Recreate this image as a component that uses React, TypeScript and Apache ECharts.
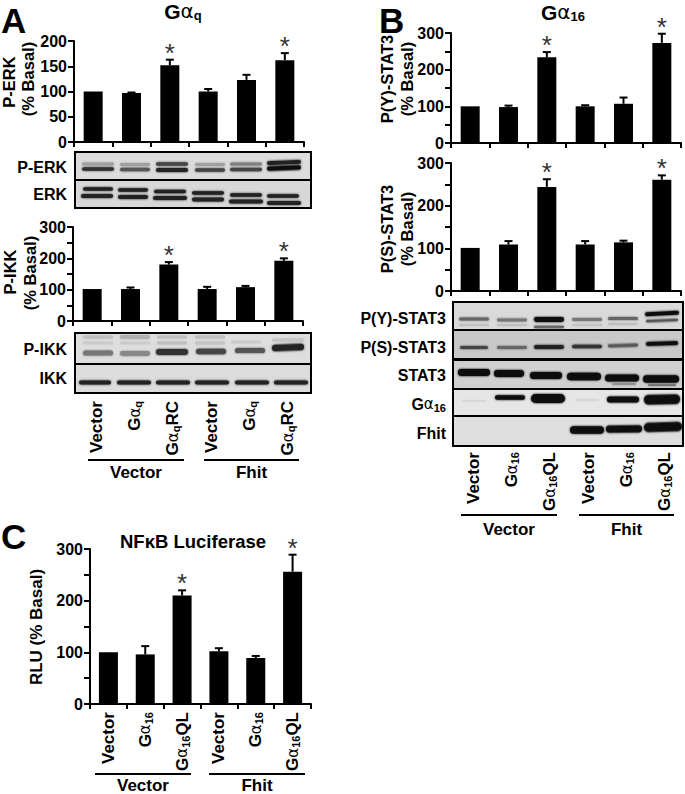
import React, { useEffect, useRef } from "react";
import * as echarts from "echarts";

const FONT = "'Liberation Sans', Arial, sans-serif";

// ---------- data ----------
const catsQ = ["Vector", "Gαq", "GαqRC", "Vector ", "Gαq ", "GαqRC "];
const cats16 = ["Vector", "Gα16", "Gα16QL", "Vector ", "Gα16 ", "Gα16QL "];

const perkValues = [100, 97, 152, 100, 123, 162];
const perkErrTops = [100, 98, 163, 105, 133, 176];
const perkStars = [false, false, true, false, false, true];
const perkTicks = [0, 50, 100, 150, 200];

const pikkValues = [102, 102, 180, 102, 108, 192];
const pikkErrTops = [102, 107, 188, 109, 112, 200];
const pikkStars = [false, false, true, false, false, true];

const pyValues = [100, 98, 234, 100, 107, 273];
const pyErrTops = [100, 102, 248, 103, 124, 298];
const pyStars = [false, false, true, false, false, true];

const psValues = [101, 109, 244, 109, 114, 261];
const psErrTops = [101, 117, 262, 117, 118, 271];
const psStars = [false, false, true, false, false, true];

const rluValues = [100, 96, 210, 102, 89, 256];
const rluErrTops = [100, 112, 220, 108, 93, 289];
const rluStars = [false, false, true, false, false, true];

const hundredTicks = [0, 100, 200, 300];

// ---------- western-blot illustrations: [cx, cy, rx, ry, colour, slope] ----------
type Band = [number, number, number, number, string, number?];
type Blot = { label: string; sub?: string; labelX: number; labelY: number; x0: number; x1: number; y0: number; y1: number; bg: string; bands: Band[] };

const blots: Blot[] = [
  { label: "P-ERK", labelX: 67, labelY: 167, x0: 75, x1: 311, y0: 152, y1: 180, bg: "#dcdcdc", bands: [
    [98, 164, 16, 1.4, "#a0a0a0"], [135, 164.5, 15, 1.4, "#a0a0a0"], [172, 164, 16, 1.8, "#444"], [210, 164.5, 15, 1.4, "#a0a0a0"], [246, 164, 16, 1.5, "#808080"], [284, 162.5, 17, 2, "#222", -0.04],
    [98, 169, 16, 1.8, "#333"], [135, 169.5, 15, 1.7, "#555"], [172, 170, 16, 2, "#222"], [210, 170, 15, 1.7, "#444"], [246, 169.5, 16, 1.7, "#444"], [284, 168, 17, 2.2, "#111", -0.04],
  ] },
  { label: "ERK", labelX: 67, labelY: 194, x0: 75, x1: 311, y0: 180, y1: 208, bg: "#d8d8d8", bands: [
    [98, 189, 15, 1.8, "#222"], [133, 190, 15, 1.8, "#222"], [170, 191.5, 16, 1.7, "#222"], [208, 193, 16, 1.7, "#222"], [246, 195, 16, 1.7, "#222"], [283, 196, 16, 1.7, "#222"],
    [97, 196, 16, 2, "#222"], [133, 197, 15, 2, "#222"], [170, 198, 17, 2, "#222"], [208, 199.5, 16, 2, "#222"], [246, 201.5, 17, 2, "#222"], [284, 203, 17, 2, "#222"],
  ] },
  { label: "P-IKK", labelX: 67, labelY: 349, x0: 75, x1: 311, y0: 333, y1: 364, bg: "#dedede", bands: [
    [98, 337, 15, 1.5, "#c0c0c0"], [135, 337, 15, 2, "#b0b0b0"], [172, 337, 15, 1.5, "#c0c0c0"], [210, 337, 15, 1.5, "#c0c0c0"],
    [98, 343, 15, 1.2, "#cacaca"], [135, 343, 15, 1.2, "#cacaca"], [172, 343, 15, 1.5, "#c0c0c0"], [210, 343, 15, 1.5, "#c4c4c4"], [246, 342, 15, 1.2, "#cacaca"], [288, 340, 16, 1.5, "#c4c4c4"],
    [98, 353, 15, 2.6, "#777"], [135, 353.5, 15, 2.4, "#888"], [172, 352, 16, 3, "#333"], [211, 351.5, 15, 2.8, "#444"], [250, 350.5, 15, 2.6, "#555"], [288, 347.5, 16, 3.2, "#222", -0.04],
  ] },
  { label: "IKK", labelX: 67, labelY: 378, x0: 75, x1: 311, y0: 364, y1: 393, bg: "#dcdcdc", bands: [
    [95, 382.5, 16, 2, "#222"], [134, 382.5, 17, 2, "#222"], [173, 382.5, 17, 2, "#222"], [212, 382.5, 17, 2, "#222"], [252, 382.5, 17, 2, "#222"], [291, 382.5, 17, 2, "#222"],
  ] },
  { label: "P(Y)-STAT3", labelX: 446, labelY: 318, x0: 453, x1: 683, y0: 302, y1: 330, bg: "#dadada", bands: [
    [474, 319, 15, 1.5, "#666"], [512, 320, 15, 1.4, "#777"], [549, 319.5, 15, 2.4, "#111"], [587, 319.5, 15, 1.4, "#777"], [623, 318.5, 15, 1.5, "#666"], [662, 313.5, 17, 2, "#111", -0.05],
    [474, 325, 15, 1, "#c0c0c0"], [512, 325, 15, 1, "#c0c0c0"], [549, 327, 15, 1.2, "#666"], [587, 325, 15, 1, "#c4c4c4"], [623, 324, 15, 1, "#c0c0c0"], [662, 320.5, 16, 1.3, "#555", -0.04],
  ] },
  { label: "P(S)-STAT3", labelX: 446, labelY: 347, x0: 453, x1: 683, y0: 330, y1: 359, bg: "#c8c8c8", bands: [
    [474, 347.5, 14, 1.5, "#444"], [512, 347.5, 15, 1.4, "#666"], [549, 347, 15, 2, "#222"], [587, 346.5, 15, 1.7, "#333"], [623, 345.5, 15, 1.4, "#555", -0.03], [662, 343.5, 16, 2, "#111", -0.03],
  ] },
  { label: "STAT3", labelX: 446, labelY: 375, x0: 453, x1: 683, y0: 360, y1: 389, bg: "#d0d0d0", bands: [
    [474, 372.5, 16, 3.4, "#0a0a0a"], [509, 373.5, 15, 3.4, "#0a0a0a"], [546, 375.5, 16, 3.4, "#0a0a0a"], [584, 376.5, 17, 3.8, "#0a0a0a"], [622, 378, 17, 3.6, "#0a0a0a"], [661, 379, 18, 3.8, "#0a0a0a"],
    [624, 384, 12, 0.8, "#888"], [662, 385, 14, 1, "#777"],
  ] },
  { label: "Gα", sub: "16", labelX: 446, labelY: 404, x0: 453, x1: 683, y0: 389, y1: 416, bg: "#e6e6e6", bands: [
    [474, 401, 12, 0.6, "#d0d0d0"], [587, 400, 12, 0.6, "#d0d0d0"],
    [510, 397.5, 15, 2.2, "#111"], [548, 398.5, 17, 4.4, "#0a0a0a"], [623, 399.5, 16, 3, "#111"], [662, 399.5, 18, 4.8, "#0a0a0a", -0.02],
  ] },
  { label: "Fhit", labelX: 446, labelY: 433, x0: 453, x1: 683, y0: 416, y1: 446, bg: "#dedede", bands: [
    [587, 430, 17, 3.8, "#0a0a0a"], [624, 429, 18, 3.4, "#0a0a0a", -0.01], [663, 427, 19, 4.6, "#0a0a0a", -0.03],
  ] },
];

// ---------- layout ----------
const panels = [
  { left: 74, right: 304, top: 41, bottom: 142, max: 200, cats: catsQ, vals: perkValues, errs: perkErrTops, stars: perkStars, shown: perkTicks, margin: 0, shift: 0, labels: false },
  { left: 73, right: 303, top: 227, bottom: 321, max: 300, cats: catsQ, vals: pikkValues, errs: pikkErrTops, stars: pikkStars, shown: hundredTicks, margin: 80, shift: 8, labels: true },
  { left: 451, right: 681, top: 33, bottom: 143, max: 300, cats: cats16, vals: pyValues, errs: pyErrTops, stars: pyStars, shown: hundredTicks, margin: 0, shift: 0, labels: false },
  { left: 451, right: 681, top: 163, bottom: 291, max: 300, cats: cats16, vals: psValues, errs: psErrTops, stars: psStars, shown: hundredTicks, margin: 161, shift: 6, labels: true },
  { left: 90, right: 311, top: 549, bottom: 704, max: 300, cats: cats16, vals: rluValues, errs: rluErrTops, stars: rluStars, shown: hundredTicks, margin: 8, shift: 0, labels: true },
];

const yNames: [string, number, number, number][] = [
  ["P-ERK", 9, 82, 16.5], ["(% Basal)", 28, 79, 16.5],
  ["P-IKK", 10, 272, 16.5], ["(% Basal)", 30, 273, 16.5],
  ["P(Y)-STAT3", 387, 79, 16.5], ["(% Basal)", 407, 79, 16.5],
  ["P(S)-STAT3", 387, 229, 16.5], ["(% Basal)", 407, 229, 16.5],
  ["RLU (% Basal)", 36, 627, 17],
];

const groupRules: [string, number, number, number, number][] = [
  ["Vector", 88, 184, 460, 472], ["Fhit", 204, 299, 460, 472],
  ["Vector", 461, 557, 515, 529], ["Fhit", 579, 674, 515, 529],
  ["Vector", 95, 191, 774, 785.5], ["Fhit", 209, 305, 774, 785.5],
];

const letters: [string, number, number][] = [["A", 1, 20], ["B", 379, 20], ["C", 1, 536]];

const richLabel = (v: string) => {
  const m = v.trim().match(/^G(α)(q|16)(.*)$/);
  if (!m) return `{g|${v.trim()}}`;
  return `{g|G}{a|α}{s|${m[2]}}${m[3] ? `{g|${m[3]}}` : ""}`;
};

const rich = {
  g: { fontFamily: FONT, fontWeight: "bold", fontSize: 17, color: "#000", lineHeight: 18 },
  a: { fontFamily: "'DejaVu Sans'", fontWeight: "normal", fontSize: 15, color: "#000", lineHeight: 18 },
  s: { fontFamily: FONT, fontWeight: "bold", fontSize: 11, color: "#000", verticalAlign: "bottom", lineHeight: 18 },
};
const blotRich = { ...rich, g: { ...rich.g, fontSize: 16 } };
const titleRich = {
  g: { fontFamily: FONT, fontWeight: "bold", fontSize: 21, color: "#000", lineHeight: 22 },
  a: { fontFamily: "'DejaVu Sans'", fontWeight: "normal", fontSize: 20, color: "#000", lineHeight: 22 },
  s: { fontFamily: FONT, fontWeight: "bold", fontSize: 13, color: "#000", verticalAlign: "bottom", lineHeight: 22 },
};

function buildOption() {
  const grid: any[] = [], xAxis: any[] = [], yAxis: any[] = [], series: any[] = [];
  panels.forEach((p, i) => {
    grid.push({ left: p.left, top: p.top, width: p.right - p.left, height: p.bottom - p.top });
    xAxis.push({
      type: "category", gridIndex: i, data: p.cats,
      axisLine: { onZero: false, lineStyle: { color: "#000", width: 2 } },
      axisTick: { show: true, alignWithLabel: false, length: 5, lineStyle: { color: "#000", width: 2 } },
      axisLabel: {
        show: p.labels, interval: 0, rotate: 90, margin: p.margin,
        padding: [p.shift, 0, 0, 0], formatter: richLabel, rich,
      },
    });
    yAxis.push({
      type: "value", gridIndex: i, min: 0, max: p.max, interval: 50, splitLine: { show: false },
      axisLine: { show: true, lineStyle: { color: "#000", width: 2 } },
      axisTick: { show: true, length: 6, lineStyle: { color: "#000", width: 2 } },
      axisLabel: {
        margin: 7, fontFamily: FONT, fontWeight: "bold", fontSize: 16, color: "#000",
        formatter: (v: number) => (p.shown.includes(v) ? String(v) : ""),
      },
    });
    series.push({ type: "bar", xAxisIndex: i, yAxisIndex: i, data: p.vals, barWidth: 19, itemStyle: { color: "#000" }, silent: true });
    series.push({
      type: "custom", xAxisIndex: i, yAxisIndex: i, clip: false, silent: true,
      data: p.vals.map((v, k) => [k, v, p.errs[k], p.stars[k] ? 1 : 0]),
      encode: { x: 0, y: 2 },
      renderItem: (_: any, api: any) => {
        const k = api.value(0);
        const base = api.coord([k, api.value(1)]);
        const top = api.coord([k, api.value(2)]);
        const children: any[] = [];
        if (api.value(2) > api.value(1)) {
          children.push({ type: "line", shape: { x1: base[0], y1: base[1], x2: top[0], y2: top[1] }, style: { stroke: "#000", lineWidth: 2 } });
          children.push({ type: "line", shape: { x1: top[0] - 4, y1: top[1], x2: top[0] + 4, y2: top[1] }, style: { stroke: "#000", lineWidth: 2 } });
        }
        if (api.value(3)) {
          children.push({ type: "text", style: { text: "*", x: top[0], y: top[1] - 7, align: "center", verticalAlign: "middle", font: `normal 26px ${FONT}`, fill: "#333" } });
        }
        return { type: "group", children };
      },
    });
  });

  const graphic: any[] = [];
  blots.forEach((b) => {
    graphic.push({ type: "rect", shape: { x: b.x0, y: b.y0, width: b.x1 - b.x0, height: b.y1 - b.y0 }, style: { fill: b.bg, stroke: "#000", lineWidth: 2 }, z: 5 });
    b.bands.forEach(([cx, cy, rx, ry, c, slope]) => {
      graphic.push({
        type: "rect", x: cx, y: cy, rotation: -(slope || 0),
        shape: { x: -rx, y: -ry, width: rx * 2, height: ry * 2, r: ry },
        style: { fill: c, shadowBlur: 2, shadowColor: c }, z: 6,
      });
    });
    const labelText = b.sub ? `{g|G}{a|α}{s|${b.sub}}` : `{g|${b.label}}`;
    graphic.push({ type: "text", z: 7, style: { text: labelText, rich: blotRich, x: b.labelX, y: b.labelY, align: "right", verticalAlign: "middle" } });
  });
  yNames.forEach(([t, x, y, size]) => {
    graphic.push({ type: "text", x, y, rotation: Math.PI / 2, style: { text: t, x: 0, y: 0, align: "center", verticalAlign: "middle", font: `bold ${size}px ${FONT}`, fill: "#000" } });
  });
  groupRules.forEach(([t, x1, x2, y, ty]) => {
    graphic.push({ type: "line", shape: { x1, y1: y, x2, y2: y }, style: { stroke: "#000", lineWidth: 2 } });
    graphic.push({ type: "text", style: { text: t, x: (x1 + x2) / 2, y: ty, align: "center", verticalAlign: "middle", font: `bold 17px ${FONT}`, fill: "#000" } });
  });
  letters.forEach(([t, x, y]) => {
    graphic.push({ type: "text", style: { text: t, x, y, align: "left", verticalAlign: "middle", font: `bold 35px ${FONT}`, fill: "#000" } });
  });

  return {
    animation: false,
    backgroundColor: "#fff",
    title: [
      { text: "{g|G}{a|α}{s|q}", left: 183, top: 0, padding: 0, textAlign: "center", textStyle: { rich: titleRich } },
      { text: "{g|G}{a|α}{s|16}", left: 563, top: 1, padding: 0, textAlign: "center", textStyle: { rich: titleRich } },
      { text: "NFκB Luciferase", left: 193, top: 532, padding: 0, textAlign: "center", textStyle: { fontFamily: FONT, fontWeight: "bold", fontSize: 18.5, color: "#000" } },
    ],
    grid, xAxis, yAxis, series, graphic,
  };
}

export default function App() {
  const ref = useRef<HTMLDivElement>(null);
  useEffect(() => {
    const chart = echarts.init(ref.current!, undefined, { renderer: "svg" });
    chart.setOption(buildOption() as any);
    return () => chart.dispose();
  }, []);
  return <div ref={ref} style={{ position: "absolute", left: 0, top: 0, width: 685, height: 794 }} />;
}
